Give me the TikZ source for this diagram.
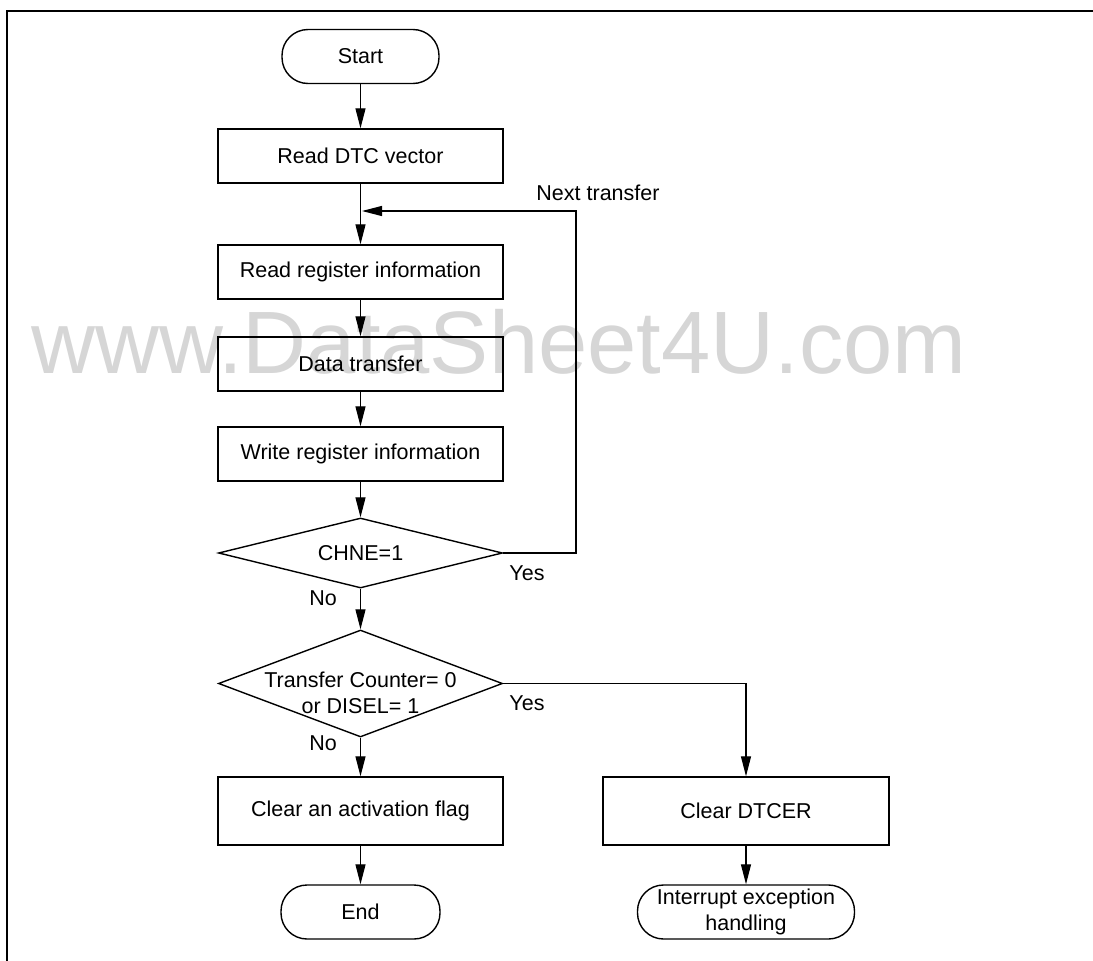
\documentclass[tikz,border=0pt]{standalone}
\usepackage{fontspec}
\setmainfont{Liberation Sans}
\usetikzlibrary{arrows.meta,shapes.geometric}
\definecolor{wm}{RGB}{214,214,214}
\tikzset{
  base/.style={font=\fontsize{21.5}{26}\selectfont, inner sep=0pt, align=center},
  proc/.style={base, draw, line width=1.4pt, rectangle, minimum width=285pt},
  term/.style={base, draw, line width=1.4pt, rectangle, rounded corners=26pt, minimum height=54pt},
  dec/.style={draw, line width=1.4pt, diamond, inner sep=0pt, minimum width=284pt},
  lbl/.style={base},
  flow/.style={line width=1.2pt, -{Triangle[length=20pt,width=10pt]}},
  plain/.style={line width=1.2pt}
}
\begin{document}
\begin{tikzpicture}[x=1pt,y=-1pt]
\useasboundingbox (0,0) rectangle (1093,961);
% frame
\draw[line width=2pt] (7,961) -- (7,11) -- (1093,11);
% watermark
\node[font=\fontsize{88.6}{100}\selectfont, text=wm, inner sep=0pt, anchor=base] (wmark) at (499,373) {www.DataSheet4U.com};
% nodes
\node[term, minimum width=157pt] (start) at (360.5,56.5) {Start};
\node[proc, minimum height=54pt] (dtc) at (360.5,156) {Read DTC vector};
\node[proc, minimum height=54pt] (rri) at (360.5,272) {Read register information};
\node[proc, minimum height=54pt] (dt) at (360.5,364) {Data transfer};
\node[proc, minimum height=54pt] (wri) at (360.5,454) {Write register information};
\node[dec, minimum height=70pt] (chne) at (360.5,553) {};
\node[base] (chnet) at (chne.center) {CHNE=1};
\node[dec, minimum height=107pt] (tc) at (360.5,683.5) {};
\node[base] (tct) at (360.5,692.5) {Transfer Counter= 0\\or DISEL= 1};
\node[proc, minimum height=68pt] (caf) at (360.5,811) {Clear an activation flag};
\node[term, minimum width=159pt] (end) at (360.5,912) {End};
\node[proc, minimum width=286pt, minimum height=68pt] (dtcer) at (746,811) {Clear DTCER};
\node[term, minimum width=217pt] (intr) at (746,912) {Interrupt exception\\handling};
% labels
\node[lbl] (next) at (598,193) {Next transfer};
\node[lbl] (yes1) at (527,573) {Yes};
\node[lbl] (no1) at (323,598) {No};
\node[lbl] (yes2) at (527,703) {Yes};
\node[lbl] (no2) at (323,743) {No};
% coordinates
\coordinate (loopcorner) at (576,211);
\coordinate (loopin) at (362,211);
% connectors
\draw[flow] (start) -- (dtc);
\draw[flow] (dtc) -- (rri);
\draw[flow] (rri) -- (dt);
\draw[flow] (dt) -- (wri);
\draw[flow] (wri) -- (chne.north);
\draw[flow] (chne.south) -- (tc.north);
\draw[flow] (chne.east) -| (loopcorner) -- (loopin);
\draw[flow] (tc.east) -| (dtcer.north);
\draw[flow] (tc.south) -- (caf.north);
\draw[flow] (caf) -- (end);
\draw[flow] (dtcer) -- (intr);
\end{tikzpicture}
\end{document}
